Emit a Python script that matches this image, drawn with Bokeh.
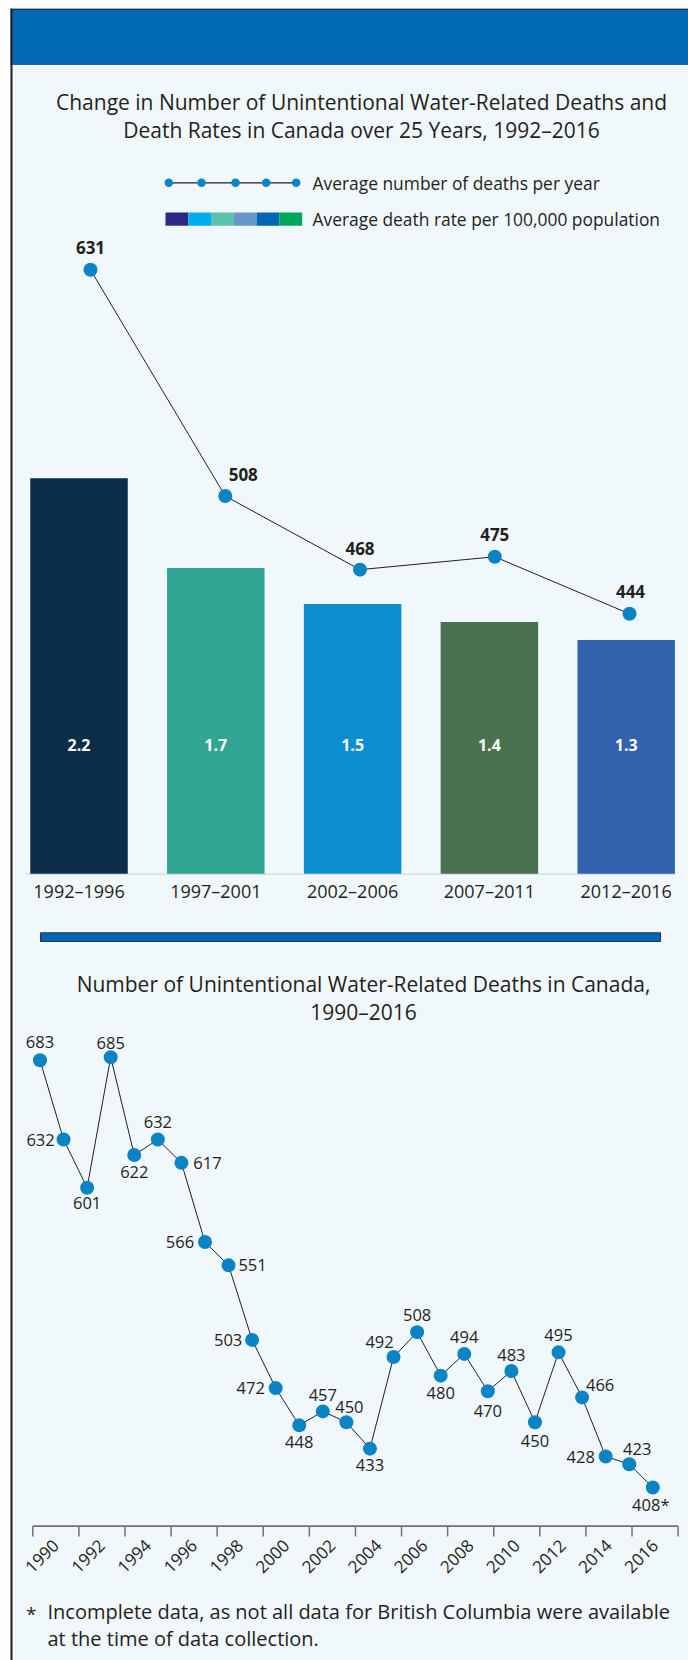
import math
from bokeh.plotting import figure
from bokeh.models import Range1d
from bokeh.core.properties import value
from bokeh.embed import file_html
from bokeh.resources import INLINE

# ---------------- data ----------------
periods = ["1992–1996", "1997–2001", "2002–2006", "2007–2011", "2012–2016"]
avg_deaths = [631, 508, 468, 475, 444]
avg_rate = [2.2, 1.7, 1.5, 1.4, 1.3]

years = [1990, 1991, 1992, 1993, 1994, 1995, 1996, 1997, 1998, 1999,
         2000, 2001, 2002, 2003, 2004, 2005, 2006, 2007, 2008, 2009,
         2010, 2011, 2012, 2013, 2014, 2015, 2016]
deaths = [683, 632, 601, 685, 622, 632, 617, 566, 551, 503,
          472, 448, 457, 450, 433, 492, 508, 480, 494, 470,
          483, 450, 495, 466, 428, 423, 408]
death_notes = [""] * 26 + ["*"]
year_ticks = [1990, 1992, 1994, 1996, 1998, 2000, 2002, 2004,
              2006, 2008, 2010, 2012, 2014, 2016]

title1 = ["Change in Number of Unintentional Water-Related Deaths and",
          "Death Rates in Canada over 25 Years, 1992–2016"]
title2 = ["Number of Unintentional Water-Related Deaths in Canada,",
          "1990–2016"]
legend_line_label = "Average number of deaths per year"
legend_bar_label = "Average death rate per 100,000 population"
footnote = ["Incomplete data, as not all data for British Columbia were available",
            "at the time of data collection."]

# ---------------- styles ----------------
BG = "#f1f8fc"
HEADER = "#0069b4"
INK = "#231f20"
DOT = "#0a84c4"
bar_colors = ["#0b2d47", "#31a594", "#0d8ed1", "#4a7150", "#3262ad"]
legend_colors = ["#2b2a82", "#00aeef", "#5cc3a9", "#6897ca", "#0066b3", "#00a65a"]
FONT = value("Open Sans")

# label offsets (pixels) for chart 2 point labels, relative to each dot
lab2_dx = [0, -23, 0, 0, 0, 0, 26, -25, 24, -24, -25, 0, 0, 3, 0, -14, 0, 0, 0, 0,
           0, 0, 0, 18, -25, 8, -2]
lab2_dy = [-18, 0, 15, -14, 17, -18, 0, 0, 0, 0, 0, 17, -16, -15, 16, -15, -17, 17, -17, 20,
           -16, 19, -17, -12, 1, -15, 17]
lab1_dx = [0, 18, 0, 0, 1]
lab1_dy = [-22, -22, -21, -22, -22]

W, H = 688, 1660


def page_range(v0, p0, v1, p1, lo, hi):
    b = (p1 - p0) / (v1 - v0)
    a = p0 - b * v0
    return Range1d(start=(lo - a) / b, end=(hi - a) / b)


p = figure(width=W, height=H, output_backend="svg", toolbar_location=None,
           x_range=Range1d(0, W), y_range=Range1d(H, 0),
           x_axis_location=None, y_axis_location=None, min_border=0,
           background_fill_color=BG, border_fill_color=BG,
           outline_line_color=None)
p.grid.visible = False

XL, XR, YB, YT = 0, W, H, 0
idx = list(range(len(periods)))
p.extra_x_ranges = {
    "bx": page_range(0, 78.5, 4, 625.7, XL, XR),
    "lx": page_range(0, 90, 4, 629, XL, XR),
    "px2": page_range(1990, 39.5, 2016, 652.3, XL, XR),
    "ax2": page_range(1989, 32.3, 2017, 677.6, XL, XR),
}
p.extra_y_ranges = {
    "by": page_range(0, 873.3, 2.2, 477.7, YB, YT),
    "ly": page_range(631, 269.3, 444, 613.3, YB, YT),
    "py2": page_range(685, 1056.7, 408, 1487.0, YB, YT),
}

# ---------------- frame decorations ----------------
p.quad(left=[0], right=[10], top=[0], bottom=[H], fill_color="white", line_color=None)
p.quad(left=[0], right=[W], top=[0], bottom=[8.3], fill_color="white", line_color=None)
p.quad(left=[10], right=[W], top=[8.3], bottom=[64], fill_color=HEADER, line_color=None)
p.line(x=[10, W], y=[8.8, 8.8], line_color="#1c2a38", line_width=1)
p.line(x=[10, W], y=[63.8, 63.8], line_color="#20507c", line_width=1)
p.line(x=[11, 11], y=[8.3, H], line_color=INK, line_width=2)

# ---------------- chart 1 ----------------
p.text(x=[361, 361], y=[101.6, 129], text=title1, text_font=FONT, text_font_size="21px",
       text_color=INK, text_align="center", text_baseline="middle")

# legend
leg_x = [168.3, 201, 235, 265.7, 295.7]
p.line(x=[leg_x[0], leg_x[-1]], y=[182.3, 182.3], line_color=INK, line_width=1.3)
p.scatter(x=leg_x, y=[182.3] * 5, size=8.5, fill_color=DOT, line_color=None)
seg_w = (301.7 - 165) / len(legend_colors)
p.quad(left=[165 + i * seg_w for i in range(6)], right=[165 + (i + 1) * seg_w for i in range(6)],
       top=[212] * 6, bottom=[225.3] * 6, fill_color=legend_colors, line_color=None)
p.text(x=[312, 312], y=[182.3, 218.7], text=[legend_line_label, legend_bar_label],
       text_font=FONT, text_font_size="17.4px", text_color=INK,
       text_align="left", text_baseline="middle")

# axis
p.line(x=[25, 675], y=[873.6, 873.6], line_color="#cbd1d5", line_width=1)
p.segment(x0=[i + 0.5 for i in idx[:-1]], x1=[i + 0.5 for i in idx[:-1]],
          y0=[0] * 4, y1=[0] * 4, line_color="#cbd1d5", line_width=1,
          x_range_name="bx", y_range_name="by")

# bars
p.vbar(x=idx, top=avg_rate, bottom=0, width=97.5 / 136.8, fill_color=bar_colors,
       line_color=None, x_range_name="bx", y_range_name="by")
p.text(x=idx, y=[0] * 5, y_offset=-129, text=[f"{r:.1f}" for r in avg_rate],
       text_font=FONT, text_font_size="16px", text_font_style="bold",
       text_color="white", text_align="center", text_baseline="middle",
       x_range_name="bx", y_range_name="by")
p.text(x=idx, y=[0] * 5, y_offset=17, text=periods,
       text_font=FONT, text_font_size="18px", text_color=INK,
       text_align="center", text_baseline="middle",
       x_range_name="bx", y_range_name="by")

# line of average deaths
p.line(x=idx, y=avg_deaths, line_color=INK, line_width=1,
       x_range_name="lx", y_range_name="ly")
p.scatter(x=idx, y=avg_deaths, size=14, fill_color=DOT, line_color=None,
          x_range_name="lx", y_range_name="ly")
p.text(x=idx, y=avg_deaths, x_offset=lab1_dx, y_offset=lab1_dy,
       text=[str(v) for v in avg_deaths], text_font=FONT, text_font_size="17px",
       text_font_style="bold", text_color=INK, text_align="center",
       text_baseline="middle", x_range_name="lx", y_range_name="ly")

# ---------------- chart 2 ----------------
p.quad(left=[40], right=[660], top=[932.3], bottom=[941], fill_color="#0066b3",
       line_color="#1c3550", line_width=1)
p.text(x=[363, 363], y=[983, 1011.5], text=title2, text_font=FONT, text_font_size="21px",
       text_color=INK, text_align="center", text_baseline="middle")

p.line(x=years, y=deaths, line_color=INK, line_width=1,
       x_range_name="px2", y_range_name="py2")
p.scatter(x=years, y=deaths, size=14, fill_color=DOT, line_color=None,
          x_range_name="px2", y_range_name="py2")
p.text(x=years, y=deaths, x_offset=lab2_dx, y_offset=lab2_dy,
       text=[f"{d}{n}" for d, n in zip(deaths, death_notes)],
       text_font=FONT, text_font_size="16.5px", text_color=INK,
       text_align="center", text_baseline="middle",
       x_range_name="px2", y_range_name="py2")

# x axis (bins of two years)
bounds = [t - 1 for t in year_ticks] + [year_ticks[-1] + 1]
p.line(x=[bounds[0], bounds[-1]], y=[1525.7, 1525.7], line_color="#707173", line_width=1.7,
       x_range_name="ax2")
p.segment(x0=bounds, x1=bounds, y0=[1525.7] * len(bounds), y1=[1536] * len(bounds),
          line_color="#707173", line_width=1.5, x_range_name="ax2")
p.text(x=year_ticks, y=[1542] * len(year_ticks), x_offset=0, text=[str(t) for t in year_ticks],
       angle=math.pi / 4, text_font=FONT, text_font_size="17px", text_color=INK,
       text_align="right", text_baseline="middle", x_range_name="ax2")

# footnote
p.text(x=[30.7], y=[1613], text=["*"], text_font=FONT, text_font_size="19px",
       text_color=INK, text_align="center", text_baseline="middle")
p.text(x=[47, 47], y=[1611, 1637.5], text=footnote, text_font=FONT, text_font_size="20px",
       text_color=INK, text_align="left", text_baseline="middle")

open("out.html", "w").write(file_html(p, INLINE))
